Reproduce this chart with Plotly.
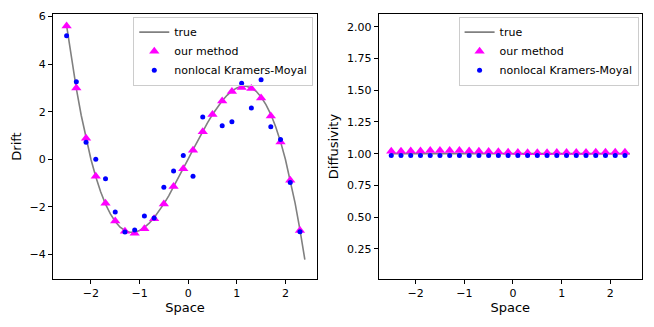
import plotly.graph_objects as go

# ── data ───────────────────────────────────────────────────────────────────
x_true = [-2.5, -2.4, -2.3, -2.2, -2.1, -2.0, -1.9, -1.8, -1.7, -1.6,
          -1.5, -1.4, -1.3, -1.2, -1.1, -1.0, -0.9, -0.8, -0.7, -0.6,
          -0.5, -0.4, -0.3, -0.2, -0.1, 0.0, 0.1, 0.2, 0.3, 0.4,
          0.5, 0.6, 0.7, 0.8, 0.9, 1.0, 1.1, 1.2, 1.3, 1.4,
          1.5, 1.6, 1.7, 1.8, 1.9, 2.0, 2.1, 2.2, 2.3, 2.4]
drift_true = [5.62, 4.22, 2.97, 1.85, 0.86, 0.0, -0.74, -1.37, -1.89, -2.30,
              -2.62, -2.86, -3.00, -3.07, -3.07, -3.00, -2.87, -2.69, -2.46, -2.18,
              -1.88, -1.54, -1.17, -0.79, -0.40, 0.0, 0.40, 0.79, 1.17, 1.54,
              1.88, 2.18, 2.46, 2.69, 2.87, 3.00, 3.07, 3.07, 3.00, 2.86,
              2.62, 2.30, 1.89, 1.37, 0.74, 0.0, -0.86, -1.85, -2.97, -4.22]

x_est = [-2.5, -2.3, -2.1, -1.9, -1.7, -1.5, -1.3, -1.1, -0.9, -0.7,
         -0.5, -0.3, -0.1, 0.1, 0.3, 0.5, 0.7, 0.9, 1.1, 1.3,
         1.5, 1.7, 1.9, 2.1, 2.3]
drift_ours = [5.6, 3.0, 0.88, -0.72, -1.85, -2.6, -3.03, -3.12, -2.93, -2.5,
              -1.88, -1.15, -0.4, 0.38, 1.16, 1.88, 2.45, 2.85, 3.02, 2.98,
              2.58, 1.82, 0.72, -0.88, -3.0]
drift_km = [5.2, 3.26, 0.71, 0.0, -0.82, -2.22, -3.06, -2.98, -2.39, -2.47,
            -1.18, -0.5, 0.16, -0.72, 1.78, None, 1.41, 1.58, 3.2, 2.16,
            3.34, 1.37, 0.83, -0.98, -3.05]

x_diff_true = [-2.5, 2.4]
diff_true = [1.0, 1.0]
diff_ours = [1.02, 1.02, 1.022, 1.022, 1.025, 1.025, 1.025, 1.025, 1.022, 1.02,
             1.018, 1.015, 1.012, 1.01, 1.008, 1.008, 1.008, 1.01, 1.01, 1.01,
             1.01, 1.012, 1.012, 1.012, 1.012]
diff_km = [0.985, 0.985, 0.985, 0.985, 0.985, 0.985, 0.985, 0.985, 0.985, 0.985,
           0.985, 0.985, 0.985, 0.985, 0.985, 0.985, 0.985, 0.985, 0.985, 0.985,
           0.985, 0.985, 0.985, 0.985, 0.985]

x_ticks = [-2, -1, 0, 1, 2]
x_ticktext = ["−2", "−1", "0", "1", "2"]
drift_ticks = [-4, -2, 0, 2, 4, 6]
drift_ticktext = ["−4", "−2", "0", "2", "4", "6"]
diff_ticks = [0.25, 0.5, 0.75, 1.0, 1.25, 1.5, 1.75, 2.0]
diff_ticktext = ["0.25", "0.50", "0.75", "1.00", "1.25", "1.50", "1.75", "2.00"]

FONT = "DejaVu Sans"
GRAY = "#808080"
MAGENTA = "#ff00ff"
BLUE = "#0000ff"

fig = go.Figure()

# left panel: drift
fig.add_trace(go.Scatter(x=x_true, y=drift_true, mode="lines", name="true",
                         line=dict(color=GRAY, width=1.6), legend="legend"))
fig.add_trace(go.Scatter(x=x_est, y=drift_ours, mode="markers", name="our method",
                         marker=dict(symbol="triangle-up", size=9, color=MAGENTA),
                         legend="legend"))
fig.add_trace(go.Scatter(x=x_est, y=drift_km, mode="markers", name="nonlocal Kramers-Moyal",
                         marker=dict(symbol="circle", size=5, color=BLUE),
                         legend="legend"))

# right panel: diffusivity
fig.add_trace(go.Scatter(x=x_diff_true, y=diff_true, mode="lines", name="true",
                         line=dict(color=GRAY, width=1.6),
                         xaxis="x2", yaxis="y2", legend="legend2"))
fig.add_trace(go.Scatter(x=x_est, y=diff_ours, mode="markers", name="our method",
                         marker=dict(symbol="triangle-up", size=9, color=MAGENTA),
                         xaxis="x2", yaxis="y2", legend="legend2"))
fig.add_trace(go.Scatter(x=x_est, y=diff_km, mode="markers", name="nonlocal Kramers-Moyal",
                         marker=dict(symbol="circle", size=5, color=BLUE),
                         xaxis="x2", yaxis="y2", legend="legend2"))

axis_common = dict(showline=True, mirror=True, linecolor="black", linewidth=1,
                   ticks="outside", ticklen=4, tickcolor="black", showgrid=False,
                   zeroline=False, automargin=False,
                   tickfont=dict(size=11, color="black"))

# transparent box so the points near the legend's lower edge stay visible
legend_common = dict(bgcolor="rgba(255,255,255,0)", bordercolor="#cccccc", borderwidth=1,
                     font=dict(size=11, color="black"), xanchor="left", yanchor="top",
                     tracegroupgap=0, itemwidth=30)

# plot area: x 52.7..641.7 px, y 14..279 px
fig.update_layout(
    width=654, height=327,
    margin=dict(l=53, r=12, t=14, b=48, pad=0, autoexpand=False),
    paper_bgcolor="white", plot_bgcolor="white",
    font=dict(family=FONT, size=11, color="black"),
    xaxis=dict(domain=[0.0, 0.4482], range=[-2.78, 2.65],
               tickvals=x_ticks, ticktext=x_ticktext,
               title=dict(text="Space", standoff=1), anchor="y", **axis_common),
    yaxis=dict(domain=[0.0, 1.0], range=[-5.04, 6.11],
               tickvals=drift_ticks, ticktext=drift_ticktext,
               title=dict(text="Drift", standoff=5), anchor="x", **axis_common),
    xaxis2=dict(domain=[0.5528, 1.0], range=[-2.76, 2.65],
                tickvals=x_ticks, ticktext=x_ticktext,
                title=dict(text="Space", standoff=1), anchor="y2", **axis_common),
    yaxis2=dict(domain=[0.0, 1.0], range=[0.013, 2.1],
                tickvals=diff_ticks, ticktext=diff_ticktext,
                title=dict(text="Diffusivity", standoff=5), anchor="x2", **axis_common),
    legend=dict(x=0.1363, y=0.99, **legend_common),
    legend2=dict(x=0.6886, y=0.99, **legend_common),
)

# the page body has a default 8px margin; drop it so the figure sits at (0, 0)
fig.write_html("out.html", config={"displayModeBar": False},
               post_script="document.body.style.margin='0';")
